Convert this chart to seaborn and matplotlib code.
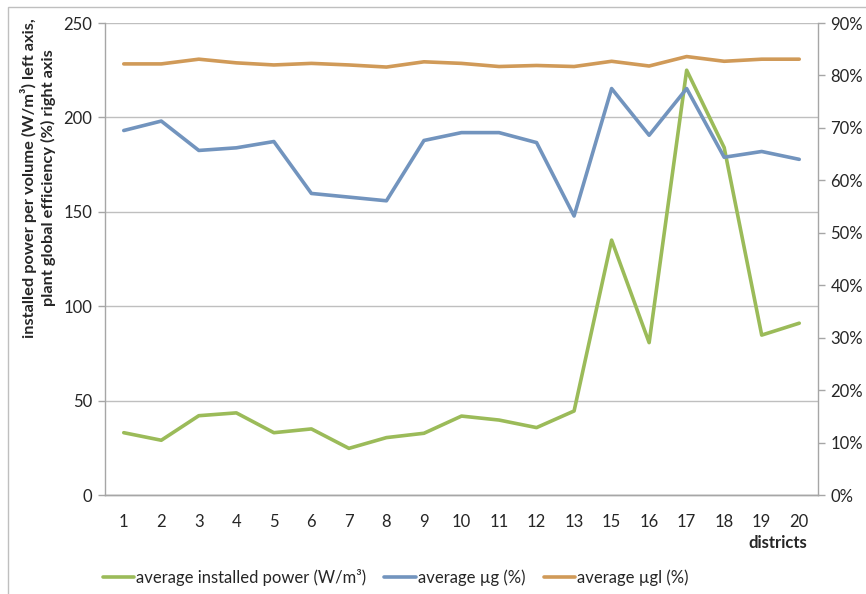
import numpy as np
import pandas as pd
import matplotlib
matplotlib.use('Agg')
import matplotlib.pyplot as plt
import seaborn as sns
from matplotlib.ticker import PercentFormatter, MultipleLocator
from matplotlib.lines import Line2D
from matplotlib.patches import Rectangle

# dados
districts = ['1', '2', '3', '4', '5', '6', '7', '8', '9', '10',
             '11', '12', '13', '15', '16', '17', '18', '19', '20']
power = [33, 29, 42, 43.5, 33, 35, 24.7, 30.4, 32.7, 41.8,
         39.7, 35.7, 44.5, 135, 80.7, 225, 184, 84.7, 91]
mu_g = [69.5, 71.3, 65.7, 66.2, 67.4, 57.5, 56.8, 56.1, 67.6, 69.1,
        69.1, 67.2, 53.2, 77.5, 68.6, 77.5, 64.4, 65.5, 64.0]
mu_gl = [82.2, 82.2, 83.1, 82.4, 82.0, 82.3, 82.0, 81.6, 82.6, 82.3,
         81.7, 81.9, 81.7, 82.7, 81.8, 83.6, 82.7, 83.1, 83.1]

lbl_power = 'average installed power (W/m³)'
lbl_g = 'average µg (%)'
lbl_gl = 'average µgl (%)'

c_green = '#9BBB59'
c_blue = '#7294BE'
c_orange = '#D09A58'
c_axis = '#A6A6A6'
c_text = '#262626'

df = pd.DataFrame({'district': districts, 'power': power, 'mu_g': mu_g, 'mu_gl': mu_gl})

sns.set_theme(style='white')
plt.rcParams['font.family'] = ['Lato', 'DejaVu Sans']
plt.rcParams['text.color'] = c_text

fig = plt.figure(figsize=(8.66, 5.94), dpi=100)
ax = fig.add_axes([105 / 866, 1 - 495 / 594, 713 / 866, 472 / 594])
ax2 = ax.twinx()

sns.lineplot(data=df, x='district', y='power', ax=ax, color=c_green, lw=2.6, sort=False)
sns.lineplot(data=df, x='district', y='mu_g', ax=ax2, color=c_blue, lw=2.6, sort=False)
sns.lineplot(data=df, x='district', y='mu_gl', ax=ax2, color=c_orange, lw=2.6, sort=False)

# eixo esquerdo
ax.set_xlim(-0.5, len(districts) - 0.5)
ax.set_ylim(0, 250)
ax.yaxis.set_major_locator(MultipleLocator(50))
ax.grid(axis='y', color='#BFBFBF', lw=1)
ax.set_axisbelow(True)
ax.set_xlabel('')
ax.set_ylabel('')
ax.tick_params(axis='y', left=True, length=5, width=1, color=c_axis, labelsize=12, labelcolor=c_text, pad=4)
ax.tick_params(axis='x', bottom=False, labelsize=12, labelcolor=c_text, pad=8)

# eixo direito
ax2.set_ylim(0, 90)
ax2.yaxis.set_major_locator(MultipleLocator(10))
ax2.yaxis.set_major_formatter(PercentFormatter(100, decimals=0))
ax2.set_ylabel('')
ax2.grid(False)
ax2.tick_params(axis='y', right=True, length=5, width=1, color=c_axis, labelsize=12, labelcolor=c_text, pad=4)

for a in (ax, ax2):
    a.spines['top'].set_visible(False)
    for s in ['left', 'right', 'bottom']:
        a.spines[s].set_color(c_axis)
        a.spines[s].set_linewidth(1)
ax2.spines['left'].set_visible(False)
ax.spines['right'].set_visible(False)

fig.text(38 / 866, 1 - 178 / 594,
         'installed power per volume (W/m³) left axis,\nplant global efficiency (%) right axis',
         rotation=90, ha='center', va='center', fontsize=11.8, fontweight='bold',
         linespacing=1.25)
fig.text(778 / 866, 1 - 543 / 594, 'districts', ha='center', va='center',
         fontsize=12, fontweight='bold')

handles = [Line2D([], [], color=c_green, lw=2.6),
           Line2D([], [], color=c_blue, lw=2.6),
           Line2D([], [], color=c_orange, lw=2.6)]
fig.legend(handles, [lbl_power, lbl_g, lbl_gl], loc='center left',
           bbox_to_anchor=(96 / 866, 1 - 577 / 594), ncol=3, frameon=False,
           fontsize=12, handlelength=1.9, handletextpad=0.1, columnspacing=1.1,
           borderaxespad=0)

# moldura externa
fig.patches.append(Rectangle((8 / 866, -0.01), 1.0, 1 - 7 / 594 + 0.01,
                             transform=fig.transFigure, fill=False,
                             ec='#BFBFBF', lw=1))

fig.savefig('out.png', dpi=100)
